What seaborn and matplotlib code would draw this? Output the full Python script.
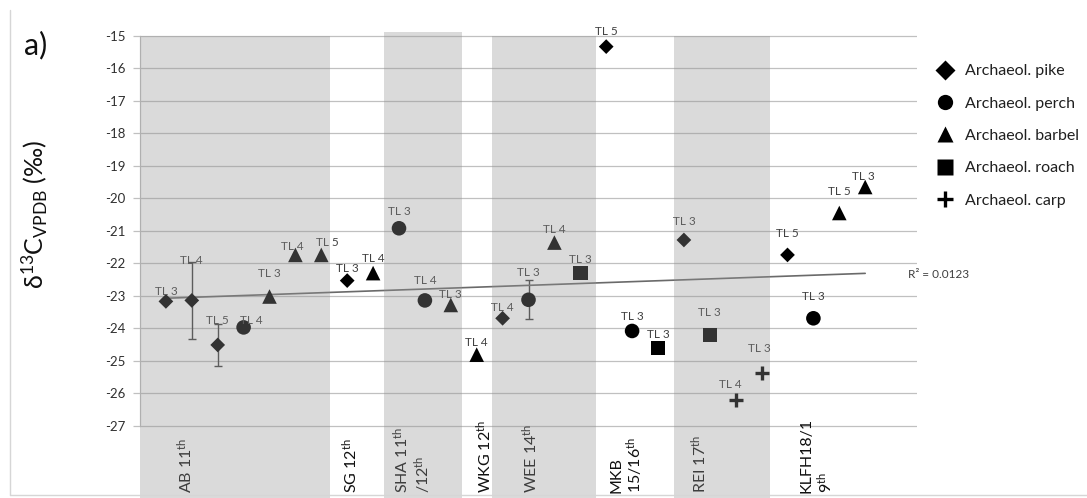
import numpy as np
import pandas as pd
import matplotlib
matplotlib.use("Agg")
import matplotlib.pyplot as plt
import matplotlib.transforms as mtransforms
from matplotlib.lines import Line2D
import seaborn as sns

# ---- data -------------------------------------------------------------
species = ["pike", "pike", "pike", "perch", "barbel", "barbel", "barbel",
           "pike", "barbel",
           "perch", "perch", "barbel",
           "barbel",
           "pike", "perch", "barbel", "roach",
           "pike", "perch", "roach",
           "pike", "roach", "carp", "carp",
           "pike", "perch", "barbel", "barbel"]
d13c = [-23.18, -23.15, -24.52, -23.98, -23.03, -21.75, -21.75,
        -22.54, -22.31,
        -20.93, -23.15, -23.29,
        -24.82,
        -23.70, -23.13, -21.37, -22.31,
        -15.34, -24.09, -24.62,
        -21.29, -24.21, -26.21, -25.37,
        -21.75, -23.70, -20.46, -19.66]
d13c_err = [0, 1.18, 0.64, 0, 0, 0, 0,
            0, 0,
            0, 0, 0,
            0,
            0, 0.60, 0, 0,
            0, 0, 0,
            0, 0, 0, 0,
            0, 0, 0, 0]
trophic_level = [3, 4, 5, 4, 3, 4, 5,
                 3, 4,
                 3, 4, 3,
                 4,
                 4, 3, 4, 3,
                 5, 3, 3,
                 3, 3, 4, 3,
                 5, 3, 5, 3]
sites = ["AB 11$^{\\mathrm{th}}$", "SG 12$^{\\mathrm{th}}$",
         "SHA 11$^{\\mathrm{th}}$\n/12$^{\\mathrm{th}}$", "WKG 12$^{\\mathrm{th}}$",
         "WEE 14$^{\\mathrm{th}}$", "MKB\n15/16$^{\\mathrm{th}}$",
         "REI 17$^{\\mathrm{th}}$", "KLFH18/1\n9$^{\\mathrm{th}}$"]
species_order = ["pike", "perch", "barbel", "roach", "carp"]
legend_labels = ["Archaeol. pike", "Archaeol. perch", "Archaeol. barbel",
                 "Archaeol. roach", "Archaeol. carp"]
r2_text = "R² = 0.0123"

df = pd.DataFrame({"sample": np.arange(1, len(d13c) + 1), "d13c": d13c,
                   "err": d13c_err, "species": species, "tl": trophic_level})

# ---- styling ------------------------------------------------------------
sns.set_theme(style="white")
plt.rcParams["font.family"] = ["Lato", "DejaVu Sans"]
plt.rcParams["mathtext.fontset"] = "custom"
plt.rcParams["mathtext.rm"] = "Lato"
plt.rcParams["mathtext.it"] = "Lato:italic"
plt.rcParams["mathtext.bf"] = "Lato:bold"
plt.rcParams["axes.unicode_minus"] = False

W, H = 1087, 498
fig = plt.figure(figsize=(W / 100, H / 100), dpi=100)
ax_top_px = 32
ax = fig.add_axes([140 / W, 0, 777 / W, (H - ax_top_px) / H])
ymin, ymax = -29.23, -14.89
ax.set_xlim(0, 30)
ax.set_ylim(ymin, ymax)

grid_c = "#c0c0c0"
ax.set_yticks(np.arange(-27, -14, 1))
ax.set_xticks([])
ax.yaxis.grid(True, color=grid_c, lw=0.9, zorder=0)
ax.xaxis.grid(False)
for s in ["top", "right", "bottom"]:
    ax.spines[s].set_visible(False)
ax.spines["left"].set_bounds(-27, -15)
ax.spines["left"].set_color(grid_c)
ax.spines["left"].set_linewidth(0.9)
ax.tick_params(axis="y", direction="out", length=5, width=0.9, color=grid_c,
               labelsize=9.5, labelcolor="#303030", pad=5.5, left=True)
ax.set_axisbelow(True)

# markers per species
markers = {"pike": "D", "perch": "o", "barbel": "^", "roach": "s", "carp": "+"}
msize = {"pike": 7.5, "perch": 10.5, "barbel": 10.5, "roach": 10.5, "carp": 10.5}

# error bars
err_df = df[df["err"] > 0]
ax.errorbar(err_df["sample"], err_df["d13c"], yerr=err_df["err"], fmt="none",
            ecolor="#404040", elinewidth=1, capsize=3, capthick=1, zorder=3)

for sp in species_order:
    sub = df[df["species"] == sp]
    if markers[sp] == "+":
        sns.scatterplot(data=sub, x="sample", y="d13c", marker="+",
                        s=msize[sp] ** 2, color="black", linewidth=2.4,
                        ax=ax, zorder=4, legend=False)
    else:
        sns.scatterplot(data=sub, x="sample", y="d13c", marker=markers[sp],
                        s=msize[sp] ** 2, color="black", edgecolor="none",
                        linewidth=0, ax=ax, zorder=4, legend=False)

# linear trend across all samples
sns.regplot(data=df, x="sample", y="d13c", scatter=False, ci=None, truncate=True,
            line_kws=dict(color="#6a6a6a", lw=1.2, zorder=3), ax=ax)
ax.set_xlabel("")
ax.set_ylabel("")
ax.set_xlim(0, 30)
ax.set_ylim(ymin, ymax)

# "TL n" point labels (offsets in pixels above the marker)
label_dy = [10, 40, 24, 7, 23, 8, 12,
            12, 15,
            17, 20, 10,
            12,
            11, 27, 13, 14,
            15, 14, 14,
            18, 22, 15, 24,
            21, 22, 22, 11]
label_dx = [0, 0, 0, 8, 0, -3, 6,
            0, 0,
            0, 0, 0,
            0,
            0, 0, 0, 0,
            0, 0, 0,
            0, 0, -5, -2,
            0, 0, 0, -2]
for i, row in df.iterrows():
    ax.annotate(f"TL {row['tl']}", (row["sample"], row["d13c"]),
                xytext=(label_dx[i] * 0.72, label_dy[i] * 0.72),
                textcoords="offset points", ha="center", va="center",
                fontsize=8.5, color="#404040", zorder=5)

# site bands (translucent grey overlay)
def yfrac(v):
    return (v - ymin) / (ymax - ymin)

bands = [(0, 7.34, -15), (9.43, 12.42, -14.89), (13.58, 17.6, -15), (20.6, 24.31, -15)]
for x0, x1, top in bands:
    ax.axvspan(x0, x1, ymin=0, ymax=yfrac(top), facecolor="#949494",
               alpha=0.345, lw=0, zorder=10)

# site names along the bottom
site_x = [1.74, 8.1, 10.49, 13.3, 15.06, 18.8, 21.6, 26.15]
trans = mtransforms.blended_transform_factory(ax.transData, ax.transAxes)
for sx, name in zip(site_x, sites):
    ax.text(sx, 0.01, name, transform=trans, rotation=90, ha="center",
            va="bottom", multialignment="left", fontsize=11.5, color="#101010",
            zorder=6, linespacing=1.05)

# legend
handles = [Line2D([], [], ls="none", marker="D", ms=10, color="black", mec="none"),
           Line2D([], [], ls="none", marker="o", ms=11, color="black", mec="none"),
           Line2D([], [], ls="none", marker="^", ms=11, color="black", mec="none"),
           Line2D([], [], ls="none", marker="s", ms=11, color="black", mec="none"),
           Line2D([], [], ls="none", marker="+", ms=11, color="black", mew=2.4)]
fig.legend(handles, legend_labels, loc="upper left",
           bbox_to_anchor=(935 / W, 1 - 64 / H), frameon=False, fontsize=11.5,
           labelspacing=1.14, handlelength=1.3, handletextpad=0.55,
           borderpad=0, borderaxespad=0, labelcolor="#202020")

fig.text(908 / W, 1 - 275 / H, r2_text, fontsize=8.5, ha="left", va="center",
         color="#404040")
fig.text(35 / W, 1 - 214 / H, "δ$^{13}$C$_{\\mathrm{VPDB}}$ (‰)", rotation=90,
         ha="center", va="center", fontsize=18, color="#101010")
fig.text(24 / W, 1 - 45 / H, "a)", fontsize=22, ha="left", va="center",
         color="#101010")

# chart area frame
frame_c = "#d6d6d6"
fig.add_artist(Line2D([10 / W, 10 / W], [1 - 495 / H, 1 - 10 / H],
                      transform=fig.transFigure, color=frame_c, lw=1))
fig.add_artist(Line2D([10 / W, 1], [1 - 495 / H, 1 - 495 / H],
                      transform=fig.transFigure, color=frame_c, lw=1))

fig.savefig("out.png", dpi=100)
